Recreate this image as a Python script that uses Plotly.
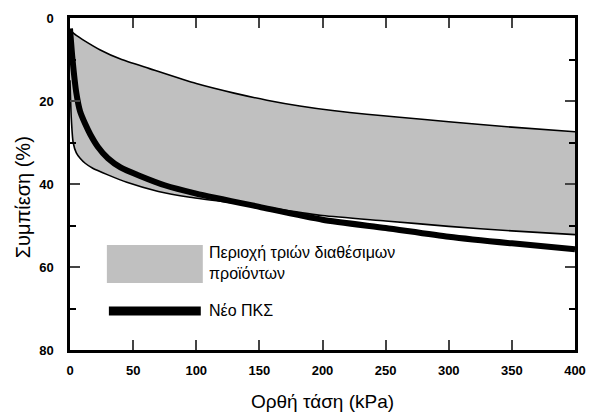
import plotly.graph_objects as go

# Upper boundary of the grey band (three available products)
upper_x = [0, 5, 10, 24, 40, 63, 100, 130, 156, 182, 208, 235, 261, 300, 350, 400]
upper_y = [3.0, 4.2, 5.2, 7.7, 9.9, 12.2, 15.8, 18.1, 19.8, 21.2, 22.3, 23.2, 23.9, 25.0, 26.3, 27.4]

# Lower boundary of the grey band
lower_x = [0, 1, 2.5, 5, 8, 12, 18, 30, 45, 70, 95, 150, 200, 250, 300, 350, 400]
lower_y = [15.0, 24.0, 30.0, 32.5, 33.8, 35.0, 36.2, 37.8, 39.6, 41.8, 43.2, 45.4, 47.6, 48.9, 50.2, 51.3, 52.2]

# New product curve
new_x = [0, 2, 5, 8, 12, 16, 22, 30, 40, 55, 75, 100, 150, 200, 250, 300, 350, 400]
new_y = [2.5, 10.0, 18.0, 22.5, 25.5, 28.0, 31.0, 33.8, 36.0, 38.0, 40.3, 42.3, 45.5, 48.6, 50.6, 52.7, 54.3, 55.7]

x_ticks = [0, 50, 100, 150, 200, 250, 300, 350, 400]
y_ticks = [0, 20, 40, 60, 80]

legend_band = "Περιοχή τριών διαθέσιμων<br>προϊόντων"
legend_line = "Νέο ΠΚΣ"
x_title = "Ορθή τάση (kPa)"
y_title = "Συμπίεση (%)"

GREY = "#c0c0c0"
FONT = "Liberation Sans, Arial, sans-serif"

fig = go.Figure()

band_x = upper_x + lower_x[::-1]
band_y = upper_y + lower_y[::-1]
fig.add_trace(go.Scatter(x=band_x, y=band_y, mode="lines", fill="toself",
                         fillcolor=GREY, line=dict(width=0), hoverinfo="skip"))
fig.add_trace(go.Scatter(x=upper_x, y=upper_y, mode="lines",
                         line=dict(color="black", width=1.6, shape="spline", smoothing=0.6)))
fig.add_trace(go.Scatter(x=lower_x, y=lower_y, mode="lines",
                         line=dict(color="black", width=1.6, shape="spline", smoothing=0.6)))
fig.add_trace(go.Scatter(x=new_x, y=new_y, mode="lines",
                         line=dict(color="black", width=6, shape="spline", smoothing=0.6)))

# custom legend
fig.add_shape(type="rect", xref="paper", yref="paper", x0=0.073, x1=0.263, y0=0.202, y1=0.316,
              fillcolor=GREY, line=dict(width=0))
fig.add_shape(type="line", xref="paper", yref="paper", x0=0.077, x1=0.259, y0=0.1175, y1=0.1175,
              line=dict(color="black", width=9))
fig.add_annotation(xref="paper", yref="paper", x=0.272, y=0.262, xanchor="left", yanchor="middle",
                   text=legend_band, showarrow=False, align="left",
                   font=dict(family=FONT, size=16, color="black"))
fig.add_annotation(xref="paper", yref="paper", x=0.272, y=0.1175, xanchor="left", yanchor="middle",
                   text=legend_line, showarrow=False, align="left",
                   font=dict(family=FONT, size=16, color="black"))

# y title as annotation to place it like the reference
fig.add_annotation(xref="paper", yref="paper", x=-0.093, y=0.46, xanchor="center", yanchor="middle",
                   text=y_title, textangle=-90, showarrow=False,
                   font=dict(family=FONT, size=20, color="black"))

fig.update_layout(
    width=592, height=412,
    margin=dict(l=70, r=17, t=18, b=62),
    paper_bgcolor="white", plot_bgcolor="white",
    showlegend=False,
    font=dict(family=FONT, color="black"),
)
fig.update_xaxes(range=[0, 400], tickvals=x_ticks, ticks="inside", ticklen=10, tickwidth=2,
                 showline=True, linecolor="black", linewidth=2.5, mirror="ticks",
                 showgrid=False, zeroline=False, automargin=False,
                 tickfont=dict(family=FONT, size=13, weight="bold"), ticklabelstandoff=7,
                 title=dict(text=x_title, font=dict(family=FONT, size=19), standoff=20))
fig.update_yaxes(range=[80, 0], tickvals=y_ticks, ticks="inside", ticklen=10, tickwidth=2,
                 minor=dict(tickvals=[10, 30, 50, 70], ticks="inside", ticklen=6, tickwidth=2,
                            tickcolor="black", showgrid=False),
                 showline=True, linecolor="black", linewidth=2.5, mirror="ticks",
                 showgrid=False, zeroline=False, automargin=False,
                 tickfont=dict(family=FONT, size=13, weight="bold"), ticklabelstandoff=11)

fig.write_html("out.html")
